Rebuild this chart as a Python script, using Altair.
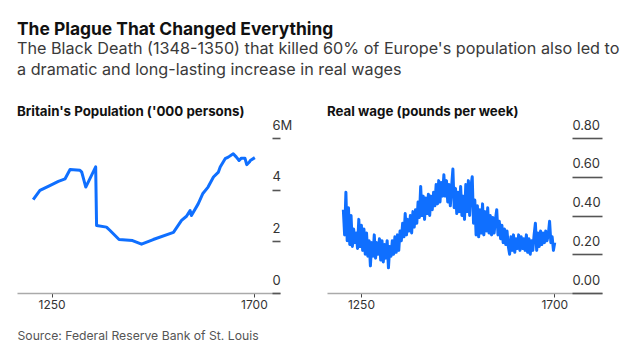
import altair as alt
import pandas as pd

# ---- data ----
pop_years = [1209, 1224, 1246, 1265, 1280, 1291, 1313, 1317, 1326, 1348, 1350,
             1372, 1380, 1400, 1430, 1450, 1476, 1521, 1539, 1550, 1558, 1561,
             1576, 1586, 1598, 1610, 1621, 1625, 1636, 1643, 1654, 1661, 1667,
             1672, 1680, 1684, 1690, 1692, 1702]
pop_values = [3.61, 3.97, 4.16, 4.32, 4.42, 4.78, 4.75, 4.68, 4.10, 4.88, 2.61,
              2.55, 2.42, 2.07, 2.03, 1.89, 2.07, 2.35, 2.81, 2.97, 3.19, 3.00,
              3.45, 3.84, 4.10, 4.49, 4.68, 4.88, 5.20, 5.26, 5.39, 5.26, 5.13,
              5.22, 5.22, 4.97, 5.07, 5.13, 5.24]

wage_years = list(range(1209, 1702, 3))
wage_values = [
    0.43, 0.30, 0.52, 0.27, 0.44, 0.25, 0.40, 0.24, 0.33, 0.26,
    0.31, 0.23, 0.38, 0.24, 0.35, 0.22, 0.33, 0.20, 0.31, 0.19,
    0.27, 0.14, 0.26, 0.19, 0.30, 0.18, 0.26, 0.20, 0.28, 0.17,
    0.27, 0.16, 0.25, 0.18, 0.27, 0.13, 0.24, 0.19, 0.27, 0.20,
    0.29, 0.21, 0.30, 0.22, 0.32, 0.27, 0.36, 0.29, 0.41, 0.30,
    0.38, 0.32, 0.40, 0.31, 0.42, 0.34, 0.43, 0.36, 0.47, 0.39,
    0.55, 0.40, 0.50, 0.38, 0.49, 0.41, 0.51, 0.40, 0.50, 0.43,
    0.52, 0.45, 0.56, 0.46, 0.58, 0.47, 0.57, 0.50, 0.61, 0.50,
    0.58, 0.47, 0.56, 0.45, 0.55, 0.64, 0.44, 0.54, 0.41, 0.52,
    0.42, 0.55, 0.40, 0.50, 0.38, 0.56, 0.42, 0.58, 0.40, 0.55,
    0.60, 0.36, 0.48, 0.30, 0.45, 0.29, 0.43, 0.31, 0.46, 0.30,
    0.42, 0.32, 0.44, 0.31, 0.40, 0.30, 0.39, 0.31, 0.38, 0.43,
    0.30, 0.37, 0.28, 0.35, 0.26, 0.33, 0.25, 0.32, 0.24, 0.20,
    0.29, 0.22, 0.30, 0.21, 0.28, 0.23, 0.30, 0.22, 0.29, 0.23,
    0.28, 0.22, 0.30, 0.21, 0.28, 0.20, 0.27, 0.22, 0.30, 0.36,
    0.22, 0.31, 0.24, 0.32, 0.25, 0.31, 0.26, 0.32, 0.27, 0.30,
    0.37, 0.26, 0.29, 0.22, 0.26,
]

x_ticks = [1250, 1700]
pop_ticks = [0, 2, 4, 6]
wage_ticks = [0, 0.2, 0.4, 0.6, 0.8]

title_text = "The Plague That Changed Everything"
subtitle_lines = [
    "The Black Death (1348-1350) that killed 60% of Europe's population also led to",
    "a dramatic and long-lasting increase in real wages",
]
left_title = "Britain's Population ('000 persons)"
right_title = "Real wage (pounds per week)"
source_text = "Source: Federal Reserve Bank of St. Louis"

FONT = "Inter"
BLUE = "#0f6fff"

pop_df = pd.DataFrame({"year": pop_years, "value": pop_values})
wage_df = pd.DataFrame({"year": wage_years, "value": wage_values})


def x_axis(title=None):
    kw = dict(values=x_ticks, format="d", tickSize=4, tickColor="#444",
              tickWidth=1, domainColor="#aaaaaa", domainWidth=1.5,
              labelFontSize=12, labelColor="#333", labelPadding=2,
              labelFlush=False, grid=False, labelFont=FONT)
    if title:
        kw.update(title=title, titleAnchor="start", titleAlign="left",
                  titleX=0, titleY=46, titleBaseline="alphabetic",
                  titleFontWeight="normal", titleFontSize=12.2,
                  titleColor="#555", titleFont=FONT)
    else:
        kw.update(title=None)
    return alt.Axis(**kw)


def y_axis(values, tick_len, label_expr=None, fmt=None):
    kw = dict(orient="right", values=values, offset=-tick_len,
              tickSize=tick_len, tickWidth=1.6, tickColor="#555",
              domain=False, grid=False, title=None,
              labelAlign="left", labelPadding=-tick_len,
              labelBaseline="alphabetic", labelOffset=-9,
              labelFontSize=13, labelColor="#333", labelFont=FONT)
    if label_expr:
        kw["labelExpr"] = label_expr
    if fmt:
        kw["format"] = fmt
    return alt.Axis(**kw)


def panel_title(t):
    return alt.TitleParams(text=t, anchor="start", fontSize=13.3,
                           fontWeight="bold", color="#111", font=FONT,
                           offset=1)


left = alt.Chart(pop_df).mark_line(color=BLUE, strokeWidth=3,
                                   strokeJoin="round").encode(
    x=alt.X("year:Q", scale=alt.Scale(domain=[1173, 1758], nice=False, zero=False),
            axis=x_axis(source_text)),
    y=alt.Y("value:Q", scale=alt.Scale(domain=[0, 6], nice=False),
            axis=y_axis(pop_ticks, 8, label_expr="datum.value == 6 ? '6M' : datum.label")),
).properties(width=263, height=155, title=panel_title(left_title))

right = alt.Chart(wage_df).mark_line(color=BLUE, strokeWidth=3,
                                     strokeJoin="round").encode(
    x=alt.X("year:Q", scale=alt.Scale(domain=[1171, 1811], nice=False, zero=False),
            axis=x_axis()),
    y=alt.Y("value:Q", scale=alt.Scale(domain=[0, 0.8], nice=False),
            axis=y_axis(wage_ticks, 30, fmt=".2f")),
).properties(width=275, height=155, title=panel_title(right_title))

chart = alt.hconcat(left, right, spacing=47, bounds="flush").properties(
    title=alt.TitleParams(
        text=title_text, subtitle=subtitle_lines, anchor="start",
        font=FONT, fontSize=17.4, fontWeight="bold", color="#111",
        subtitleFont=FONT, subtitleFontSize=16.2, subtitleColor="#3a3a3a",
        subtitleLineHeight=21, subtitlePadding=2, offset=27,
    ),
    padding={"left": 9, "top": 13, "right": 5, "bottom": 5},
    background="white",
).configure_view(stroke=None)

chart.save("out.html", embed_options={"renderer": "svg", "actions": False})
